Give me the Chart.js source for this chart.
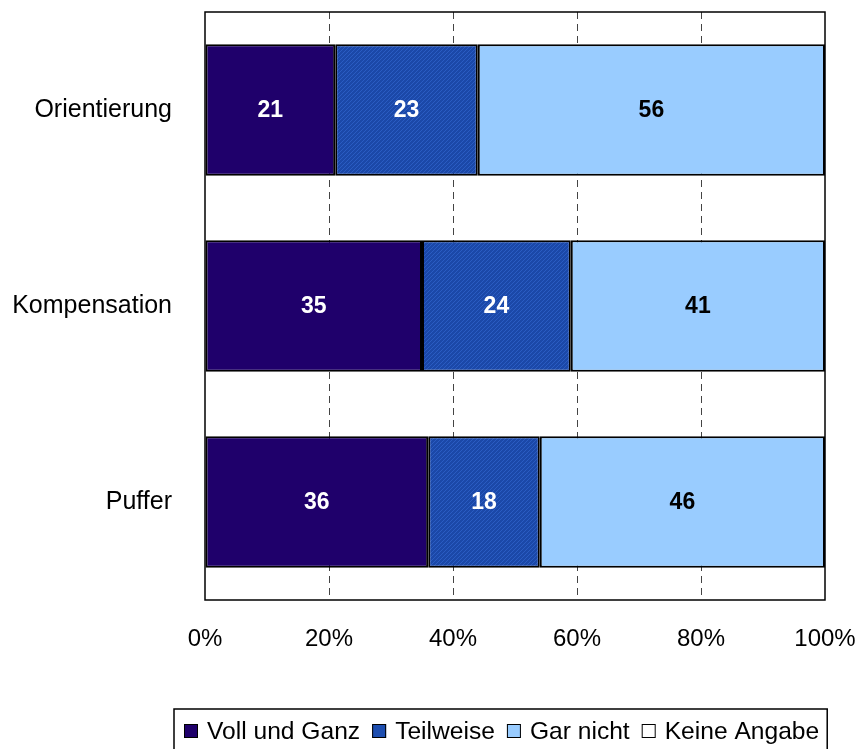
<!DOCTYPE html>
<html>
<head>
<meta charset="utf-8">
<script src="https://cdn.jsdelivr.net/npm/chart.js@4/dist/chart.umd.min.js"></script>
<style>
  html, body { margin: 0; padding: 0; background: #fff; }
  #wrap { width: 861px; height: 749px; position: relative; }
</style>
</head>
<body>
<div id="wrap"><canvas id="c" width="861" height="749"></canvas></div>
<script>
const categories = ["Orientierung", "Kompensation", "Puffer"];
const seriesNames = ["Voll und Ganz", "Teilweise", "Gar nicht", "Keine Angabe"];
const vollUndGanz = [21, 35, 36];
const teilweise = [23, 24, 18];
const garNicht = [56, 41, 46];
const keineAngabe = [0, 0, 0];
const xTicks = [0, 20, 40, 60, 80, 100];

const FONT = "'Liberation Sans', Arial, sans-serif";

function makePattern() {
  const p = document.createElement("canvas");
  p.width = 4; p.height = 4;
  const g = p.getContext("2d");
  g.fillStyle = "#1b48a8";
  g.fillRect(0, 0, 4, 4);
  g.fillStyle = "#2a5cc2";
  for (let i = 0; i < 4; i++) g.fillRect(i, 3 - i, 1, 1);
  return g.createPattern(p, "repeat");
}
const ctx0 = document.getElementById("c").getContext("2d");
const teilPattern = makePattern();

const colors = ["#1f006b", teilPattern, "#99ccff", "#ffffff"];
const legendSwatch = ["#1f006b", "#1d4eb0", "#99ccff", "#ffffff"];
const labelColors = ["#ffffff", "#ffffff", "#000000", "#000000"];

function noEdgePadding(s) {
  s.paddingLeft = 0; s.paddingRight = 0; s.paddingTop = 0; s.paddingBottom = 0;
}

const frameAndLabels = {
  id: "frameAndLabels",
  afterDatasetsDraw(chart) {
    const { ctx, chartArea: a } = chart;
    ctx.save();
    // value labels
    ctx.font = "bold 23px " + FONT;
    ctx.textAlign = "center";
    ctx.textBaseline = "middle";
    chart.data.datasets.forEach((ds, di) => {
      const meta = chart.getDatasetMeta(di);
      meta.data.forEach((bar, i) => {
        const v = ds.data[i];
        if (!v) return;
        ctx.fillStyle = labelColors[di];
        ctx.fillText(String(v), (bar.x + bar.base) / 2, bar.y + 1);
      });
    });
    // plot frame
    ctx.strokeStyle = "#000";
    ctx.lineWidth = 1.5;
    ctx.strokeRect(a.left, a.top, a.right - a.left, a.bottom - a.top);
    ctx.restore();
  },
  afterDraw(chart) {
    const { ctx } = chart;
    ctx.save();
    ctx.font = "24.6px " + FONT;
    ctx.textBaseline = "middle";
    const top = 709, cy = 731, sq = 14;
    let x = 184;
    seriesNames.forEach((name, i) => {
      ctx.fillStyle = legendSwatch[i];
      ctx.fillRect(x, cy - 7, sq, sq);
      ctx.strokeStyle = "#000";
      ctx.lineWidth = 1;
      ctx.strokeRect(x + 0.5, cy - 7 + 0.5, sq - 1, sq - 1);
      x += sq + 9;
      ctx.fillStyle = "#000";
      ctx.fillText(name, x, cy + 1);
      x += ctx.measureText(name).width + 12;
    });
    ctx.strokeStyle = "#000";
    ctx.lineWidth = 1.5;
    ctx.beginPath();
    ctx.moveTo(174, 752);
    ctx.lineTo(174, top);
    ctx.lineTo(x - 4, top);
    ctx.lineTo(x - 4, 752);
    ctx.stroke();
    ctx.restore();
  }
};

const dsData = [vollUndGanz, teilweise, garNicht, keineAngabe];

new Chart(ctx0, {
  type: "bar",
  data: {
    labels: categories,
    datasets: seriesNames.map((name, i) => ({
      label: name,
      data: dsData[i],
      backgroundColor: colors[i],
      borderColor: "#000",
      borderWidth: i === 3 ? 0 : 2,
      borderSkipped: false,
      barPercentage: 0.67,
      categoryPercentage: 1
    }))
  },
  options: {
    indexAxis: "y",
    responsive: false,
    animation: false,
    layout: { padding: { top: 12, right: 36, left: 0, bottom: 0 } },
    plugins: { legend: { display: false }, tooltip: { enabled: false } },
    scales: {
      x: {
        stacked: true,
        min: 0,
        max: 100,
        afterBuildTicks: (s) => { s.ticks = xTicks.map(v => ({ value: v })); },
        afterFit: (s) => { s.height = 149; noEdgePadding(s); },
        grid: {
          drawTicks: false,
          color: (c) => (c.tick && (c.tick.value === 0 || c.tick.value === 100)) ? "rgba(0,0,0,0)" : "#444",
          lineWidth: 1
        },
        border: { display: false, dash: [7, 5] },
        ticks: {
          padding: 25,
          color: "#000",
          font: { family: FONT, size: 24 },
          callback: (v) => v + "%"
        }
      },
      y: {
        stacked: true,
        afterFit: (s) => { s.width = 205; noEdgePadding(s); },
        grid: { display: false, drawTicks: false },
        border: { display: false },
        ticks: {
          padding: 33,
          color: "#000",
          font: { family: FONT, size: 25 }
        }
      }
    }
  },
  plugins: [frameAndLabels]
});
</script>
</body>
</html>
